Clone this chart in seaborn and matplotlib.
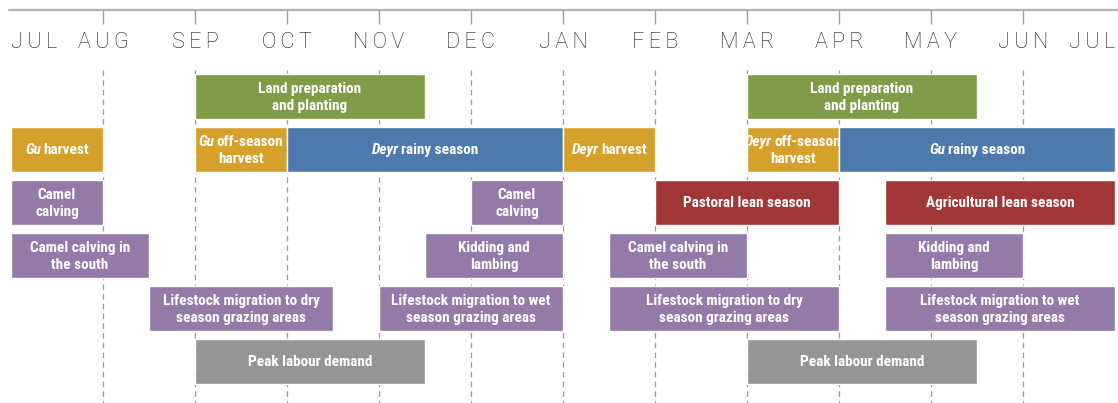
import os
import numpy as np
import pandas as pd
import matplotlib
matplotlib.use("Agg")
import matplotlib.pyplot as plt
import seaborn as sns
from matplotlib import font_manager as fm
from matplotlib.transforms import IdentityTransform

# Calendar months (position 0 = July, 12 = next July)
months = ["JUL", "AUG", "SEP", "OCT", "NOV", "DEC", "JAN",
          "FEB", "MAR", "APR", "MAY", "JUN", "JUL"]

# Activities: *text* marks italic parts, \n splits lines
act_label = [
    "Land preparation\nand planting", "Land preparation\nand planting",
    "*Gu* harvest", "*Gu* off-season\nharvest", "*Deyr* rainy season",
    "*Deyr* harvest", "*Deyr* off-season\nharvest", "*Gu* rainy season",
    "Camel\ncalving", "Camel\ncalving", "Pastoral lean season",
    "Agricultural lean season",
    "Camel calving in\nthe south", "Kidding and\nlambing",
    "Camel calving in\nthe south", "Kidding and\nlambing",
    "Lifestock migration to dry\nseason grazing areas",
    "Lifestock migration to wet\nseason grazing areas",
    "Lifestock migration to dry\nseason grazing areas",
    "Lifestock migration to wet\nseason grazing areas",
    "Peak labour demand", "Peak labour demand",
]
act_start = [2, 8, 0, 2, 3, 6, 8, 9, 0, 5, 7, 9.5, 0, 4.5, 6.5, 9.5, 1.5, 4, 6.5, 9.5, 2, 8]
act_end = [4.5, 10.5, 1, 3, 6, 7, 9, 12, 1, 6, 9, 12, 1.5, 6, 8, 11, 3.5, 6, 9, 12, 4.5, 10.5]
act_row = [0, 0, 1, 1, 1, 1, 1, 1, 2, 2, 2, 2, 3, 3, 3, 3, 4, 4, 4, 4, 5, 5]
act_kind = ["planting", "planting", "harvest", "harvest", "rain", "harvest", "harvest", "rain",
            "livestock", "livestock", "lean", "lean",
            "livestock", "livestock", "livestock", "livestock",
            "livestock", "livestock", "livestock", "livestock",
            "labour", "labour"]

kind_colors = {"planting": "#7e9d46", "harvest": "#d6a12b", "rain": "#4d7aad",
               "livestock": "#947aa8", "lean": "#a13837", "labour": "#959595"}

df = pd.DataFrame({"label": act_label, "start": act_start, "end": act_end,
                   "row": act_row, "kind": act_kind})

sns.set_theme(style="white")
plt.rcParams["font.family"] = ["DejaVu Sans"]
plt.rcParams["lines.scale_dashes"] = False

# look for a condensed bold face (regular + italic pair)
font_pairs = [
    ("LiberationSansNarrow-Bold.ttf", "LiberationSansNarrow-BoldItalic.ttf"),
    ("RobotoCondensed-Bold.ttf", "RobotoCondensed-BoldItalic.ttf"),
    ("OpenSans_Condensed-Bold.ttf", "OpenSans_Condensed-BoldItalic.ttf"),
    ("OpenSans-CondBold.ttf", "OpenSans-CondBoldItalic.ttf"),
    ("DejaVuSansCondensed-Bold.ttf", "DejaVuSansCondensed-BoldOblique.ttf"),
    ("Roboto-Bold.ttf", "Roboto-BoldItalic.ttf"),
]
files = {os.path.basename(f.fname): f.fname for f in fm.fontManager.ttflist}
fp_bold = fm.FontProperties(family="DejaVu Sans", weight="bold")
fp_ital = fm.FontProperties(family="DejaVu Sans", weight="bold", style="italic")
for b, i in font_pairs:
    if b in files:
        fp_bold = fm.FontProperties(fname=files[b])
        fp_ital = fm.FontProperties(fname=files.get(i, files[b]))
        break

DPI = 100
fig = plt.figure(figsize=(11.18, 4.03), dpi=DPI)
ax = fig.add_axes([11 / 1118, 0, 1104 / 1118, 1])

ROW0, PITCH = 96, 53  # pixel centre of first row, row pitch


def py(pix):
    return (pix - ROW0) / PITCH


ax.set_xlim(0, 12)
ax.set_ylim(py(403), py(0))
ax.axis("off")

# top rule, ticks, dashed month lines
ax.plot([-0.02, 12.05], [py(10), py(10)], color="#b3b3b3", lw=1.6, clip_on=False)
ax.vlines(np.arange(1, 12), py(10), py(24), color="#a0a0a0", lw=1.0)
ax.vlines(np.arange(1, 12), py(70), py(403), color="#9a9a9a", lw=0.9,
          linestyles=[(0, (4, 3))], zorder=0)

for i, m in enumerate(months):
    ha = "left" if i == 0 else ("right" if i == len(months) - 1 else "center")
    ax.text(i, py(48), "\u2009".join(m), ha=ha, va="baseline", fontsize=15.5,
            fontweight="light", color="#1a1a1a", family=["Roboto", "DejaVu Sans"])

# bars
ax.barh(df["row"], df["end"] - df["start"], left=df["start"], height=45 / PITCH,
        color=df["kind"].map(kind_colors), zorder=2)

FS = 11
LINE_PX = 17
CAP_PX = 0.71 * FS * DPI / 72
GAP_PX = 2.5
renderer = fig.canvas.get_renderer()


def parse(label):
    lines = []
    for line in label.split("\n"):
        segs = []
        for k, part in enumerate(line.split("*")):
            part = part.strip()
            if part:
                segs.append((part, k % 2 == 1))
        lines.append(segs)
    return lines


def draw_label(xc, yc, label):
    lines = parse(label)
    n = len(lines)
    cx, cy = ax.transData.transform((xc, yc))
    for i, segs in enumerate(lines):
        base = cy - CAP_PX / 2 - (i - (n - 1) / 2) * LINE_PX
        texts = [ax.text(0, 0, s, fontproperties=fp_ital if it else fp_bold, fontsize=FS,
                         color="white", transform=IdentityTransform(),
                         ha="left", va="baseline", zorder=3)
                 for s, it in segs]
        widths = [t.get_window_extent(renderer).width for t in texts]
        total = sum(widths) + GAP_PX * (len(texts) - 1)
        x0 = cx - total / 2
        for t, w in zip(texts, widths):
            t.set_position((x0, base))
            x0 += w + GAP_PX


for _, r in df.iterrows():
    draw_label((r["start"] + r["end"]) / 2, r["row"], r["label"])

fig.savefig("out.png", dpi=DPI)
